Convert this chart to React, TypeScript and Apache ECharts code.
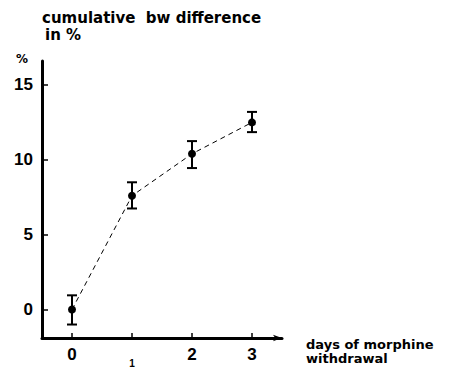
import React, { useEffect, useRef } from "react";
import * as echarts from "echarts";

const days = [0, 1, 2, 3];
const meanDiff = [0, 7.6, 10.4, 12.5];
const errHigh = [0.95, 8.5, 11.25, 13.2];
const errLow = [-1.0, 6.75, 9.45, 11.85];
const yTicks = [0, 5, 10, 15];
const xTicks = [0, 1, 2, 3];

const FONT = "'Liberation Sans', Arial, sans-serif";
const WIDE = "'DejaVu Sans', sans-serif";

export default function App() {
  const ref = useRef<HTMLDivElement>(null);
  useEffect(() => {
    const chart = echarts.init(ref.current!, null, { renderer: "svg" });
    const lineData = days.map((d, i) => [d, meanDiff[i]]);
    const errData = days.map((d, i) => [d, errLow[i], errHigh[i]]);
    const txt = (text: string, x: number, y: number, size: number) => ({
      type: "text",
      x,
      y,
      style: { text, font: "bold " + size + "px " + WIDE, fill: "#000", verticalAlign: "top" },
    });
    chart.setOption({
      animation: false,
      backgroundColor: "#fff",
      grid: { left: 42, right: 175, top: 61, bottom: 26 },
      xAxis: {
        type: "value",
        min: -0.5,
        max: 3.5,
        splitLine: { show: false },
        axisLine: {
          onZero: false,
          lineStyle: { color: "#000", width: 3 },
          symbol: ["none", "arrow"],
          symbolSize: [5, 9],
        },
        axisTick: { customValues: xTicks, inside: true, length: 5, lineStyle: { color: "#000", width: 1.5 } },
        axisLabel: {
          customValues: xTicks,
          margin: 8,
          color: "#000",
          fontFamily: FONT,
          fontWeight: "bold",
          fontSize: 17,
          formatter: (v: number) => (v === 1 ? "{s|1}" : "{n|" + v + "}"),
          rich: {
            n: { fontSize: 17, fontWeight: "bold", fontFamily: FONT, color: "#000" },
            s: { fontSize: 10, fontWeight: "bold", fontFamily: FONT, color: "#000", padding: [12, 0, 0, 0] },
          },
        },
      },
      yAxis: {
        type: "value",
        min: -1.9,
        max: 16.6,
        splitLine: { show: false },
        axisLine: { onZero: false, lineStyle: { color: "#000", width: 3 } },
        axisTick: { customValues: yTicks, inside: true, length: 6, lineStyle: { color: "#000", width: 1.5 } },
        axisLabel: {
          customValues: yTicks,
          margin: 9,
          color: "#000",
          fontFamily: FONT,
          fontWeight: "bold",
          fontSize: 17,
        },
      },
      graphic: [
        txt("cumulative  bw difference", 42, 10, 15),
        txt("in %", 45, 27, 15),
        txt("%", 16, 53, 12),
        txt("days of morphine", 306, 338, 13),
        txt("withdrawal", 306, 352, 13),
      ],
      series: [
        {
          type: "line",
          data: lineData,
          symbol: "circle",
          symbolSize: 8,
          itemStyle: { color: "#000" },
          lineStyle: { color: "#000", width: 1, type: [5, 4] },
          z: 3,
        },
        {
          type: "custom",
          data: errData,
          z: 4,
          renderItem: (params: any, api: any) => {
            const x = api.value(0);
            const lo = api.coord([x, api.value(1)]);
            const hi = api.coord([x, api.value(2)]);
            const w = 5;
            const st = { stroke: "#000", lineWidth: 2 };
            return {
              type: "group",
              children: [
                { type: "line", shape: { x1: lo[0], y1: lo[1], x2: hi[0], y2: hi[1] }, style: st },
                { type: "line", shape: { x1: lo[0] - w, y1: lo[1], x2: lo[0] + w, y2: lo[1] }, style: st },
                { type: "line", shape: { x1: hi[0] - w, y1: hi[1], x2: hi[0] + w, y2: hi[1] }, style: st },
              ],
            };
          },
        },
      ],
    });
    return () => chart.dispose();
  }, []);
  return <div ref={ref} style={{ width: 457, height: 368, position: "absolute", left: 0, top: 0 }} />;
}
